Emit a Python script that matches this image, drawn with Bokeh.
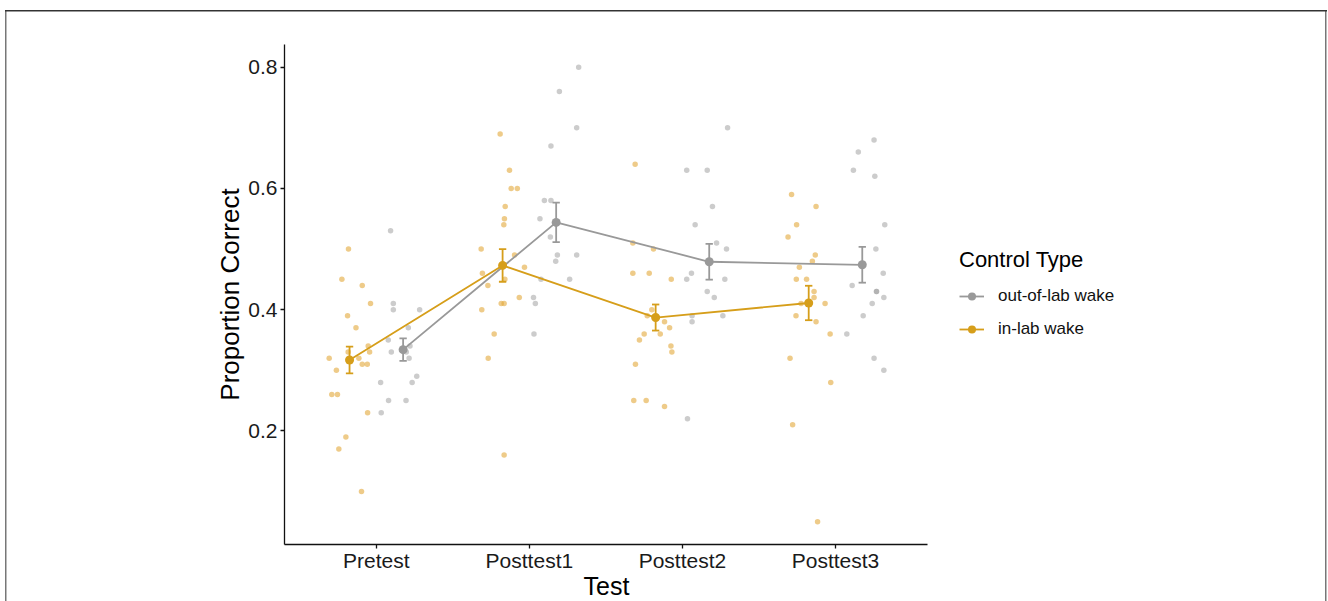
from bokeh.plotting import figure
from bokeh.models import (FixedTicker, Legend, LegendItem, Title,
                          ColumnDataSource, Range1d)
from bokeh.embed import file_html
from bokeh.resources import INLINE

# ---------------- data ----------------
tests = ["Pretest", "Posttest1", "Posttest2", "Posttest3"]
group_names = ["out-of-lab wake", "in-lab wake"]

# individual proportions correct (in-lab wake) and horizontal jitter (category units)
inlab_pretest = [0.50, 0.45, 0.44, 0.41, 0.39, 0.37, 0.34, 0.33, 0.33, 0.32,
                 0.32, 0.31, 0.31, 0.30, 0.26, 0.26, 0.23, 0.19, 0.17, 0.10]
inlab_pretest_jit = [-0.182, -0.225, -0.092, -0.038, -0.188, -0.133, -0.053, -0.044, -0.184, -0.308,
                     -0.114, -0.092, -0.059, -0.261, -0.291, -0.254, -0.057, -0.199, -0.245, -0.097]
inlab_post1 = [0.69, 0.63, 0.60, 0.60, 0.57, 0.55, 0.54, 0.50, 0.49, 0.47,
               0.46, 0.45, 0.44, 0.42, 0.41, 0.41, 0.40, 0.36, 0.32, 0.16]
inlab_post1_jit = [-0.191, -0.130, -0.119, -0.079, -0.158, -0.163, -0.167, -0.315, -0.097, -0.032,
                   -0.307, -0.160, -0.271, -0.066, -0.184, -0.165, -0.311, -0.230, -0.269, -0.165]
inlab_post2 = [0.64, 0.51, 0.50, 0.46, 0.46, 0.45, 0.40, 0.39, 0.38, 0.37,
               0.36, 0.36, 0.35, 0.34, 0.33, 0.31, 0.25, 0.25, 0.24]
inlab_post2_jit = [-0.309, -0.324, -0.189, -0.324, -0.217, -0.073, -0.200, -0.230, -0.117, -0.084,
                   -0.250, -0.145, -0.281, -0.075, -0.069, -0.307, -0.318, -0.237, -0.117]
inlab_post3 = [0.59, 0.57, 0.54, 0.52, 0.49, 0.48, 0.47, 0.45, 0.45, 0.43,
               0.42, 0.41, 0.41, 0.39, 0.38, 0.36, 0.32, 0.28, 0.21, 0.05]
inlab_post3_jit = [-0.287, -0.127, -0.254, -0.310, -0.132, -0.151, -0.236, -0.256, -0.189, -0.140,
                   -0.140, -0.068, -0.225, -0.258, -0.127, -0.035, -0.297, -0.031, -0.280, -0.117]

# individual proportions correct (out-of-lab wake) and horizontal jitter
outlab_pretest = [0.53, 0.41, 0.40, 0.40, 0.37, 0.35, 0.34, 0.33, 0.33, 0.32,
                  0.29, 0.28, 0.28, 0.25, 0.25, 0.23]
outlab_pretest_jit = [0.093, 0.111, 0.111, 0.283, 0.209, 0.078, 0.220, 0.098, 0.196, 0.214,
                      0.264, 0.028, 0.234, 0.080, 0.194, 0.032]
outlab_post1 = [0.80, 0.76, 0.70, 0.67, 0.58, 0.58, 0.55, 0.52, 0.49, 0.49,
                0.48, 0.45, 0.45, 0.42, 0.41, 0.36]
outlab_post1_jit = [0.322, 0.196, 0.309, 0.141, 0.098, 0.141, 0.069, 0.137, 0.183, 0.309,
                    0.172, 0.076, 0.263, 0.027, 0.039, 0.030]
outlab_post2 = [0.70, 0.63, 0.63, 0.57, 0.54, 0.51, 0.50, 0.46, 0.45, 0.45,
                0.43, 0.42, 0.39, 0.39, 0.38, 0.22]
outlab_post2_jit = [0.295, 0.028, 0.162, 0.196, 0.083, 0.223, 0.288, 0.059, 0.028, 0.277,
                    0.162, 0.208, 0.063, 0.264, 0.063, 0.033]
outlab_post3 = [0.68, 0.66, 0.63, 0.62, 0.54, 0.50, 0.46, 0.44, 0.43, 0.43,
                0.42, 0.41, 0.39, 0.36, 0.32, 0.30]
outlab_post3_jit = [0.252, 0.149, 0.117, 0.257, 0.322, 0.264, 0.312, 0.109, 0.268, 0.268,
                    0.316, 0.240, 0.181, 0.074, 0.252, 0.316]

# group means and standard errors per test
outlab_mean = [0.334, 0.544, 0.479, 0.474]
outlab_se = [0.0185, 0.0325, 0.0295, 0.0295]
inlab_mean = [0.317, 0.473, 0.387, 0.411]
inlab_se = [0.022, 0.027, 0.0215, 0.0284]

# ---------------- styling ----------------
GRAY = "#999999"
ORANGE = "#D69E1A"
ORANGE_PT = "#E2A83A"
FONT = "Liberation Sans"
DODGE = 0.175
CAP = 0.024
X_LO, X_HI = 0.4, 4.6          # visible extent of the categorical axis
X_VIEW_END = 7.169             # frame continues right to host the legend

p = figure(width=1328, height=601, output_backend="svg", toolbar_location=None,
           x_range=Range1d(X_LO, X_VIEW_END), y_range=Range1d(0.0125, 0.8375),
           min_border_left=284, min_border_right=8, min_border_top=44,
           min_border_bottom=57)
p.outline_line_color = None
p.xgrid.visible = False
p.ygrid.visible = False
p.background_fill_color = "white"
p.border_fill_alpha = 0
# thin panel frame drawn behind the (transparent) canvas border
p.styles = {
    "background": ("linear-gradient(#333333,#333333) 5px 10px / 1322px 1.5px no-repeat, "
                   "linear-gradient(#777777,#777777) 5px 10px / 1.5px 600px no-repeat, "
                   "linear-gradient(#777777,#777777) 1325px 10px / 1.5px 600px no-repeat, "
                   "#ffffff"),
}

# jittered individual points
def jitter_source(values_list, jit_list):
    xs, ys = [], []
    for i, (vals, jits) in enumerate(zip(values_list, jit_list)):
        for v, j in zip(vals, jits):
            xs.append(i + 1 + j)
            ys.append(v)
    return ColumnDataSource(dict(x=xs, y=ys))

src_in = jitter_source([inlab_pretest, inlab_post1, inlab_post2, inlab_post3],
                       [inlab_pretest_jit, inlab_post1_jit, inlab_post2_jit, inlab_post3_jit])
src_out = jitter_source([outlab_pretest, outlab_post1, outlab_post2, outlab_post3],
                        [outlab_pretest_jit, outlab_post1_jit, outlab_post2_jit, outlab_post3_jit])

p.scatter("x", "y", source=src_in, size=5.5, fill_color=ORANGE_PT, line_color=None, fill_alpha=0.6)
p.scatter("x", "y", source=src_out, size=5.5, fill_color=GRAY, line_color=None, fill_alpha=0.5)

def summary_source(means, ses, shift):
    xs = [i + 1 + shift for i in range(len(means))]
    lo = [m - s for m, s in zip(means, ses)]
    hi = [m + s for m, s in zip(means, ses)]
    return ColumnDataSource(dict(x=xs, y=means, lo=lo, hi=hi,
                                 x0=[x - CAP for x in xs], x1=[x + CAP for x in xs]))

s_out = summary_source(outlab_mean, outlab_se, DODGE)
s_in = summary_source(inlab_mean, inlab_se, -DODGE)

renderers = {}
for name, s, col in [("out", s_out, GRAY), ("in", s_in, ORANGE)]:
    ln = p.line("x", "y", source=s, line_color=col, line_width=1.8)
    p.segment("x", "lo", "x", "hi", source=s, line_color=col, line_width=1.8)
    p.segment("x0", "hi", "x1", "hi", source=s, line_color=col, line_width=1.8)
    p.segment("x0", "lo", "x1", "lo", source=s, line_color=col, line_width=1.8)
    pt = p.scatter("x", "y", source=s, size=9, fill_color=col, line_color=None)
    renderers[name] = (ln, pt)

# axes
p.xaxis.ticker = FixedTicker(ticks=[1, 2, 3, 4])
p.xaxis.major_label_overrides = {i + 1: t for i, t in enumerate(tests)}
p.xaxis.bounds = (X_LO, X_HI)
p.yaxis.ticker = FixedTicker(ticks=[0.2, 0.4, 0.6, 0.8])
p.yaxis.axis_label = "Proportion Correct"
for ax in (p.xaxis[0], p.yaxis[0]):
    ax.axis_line_color = "#111111"
    ax.axis_line_width = 1.3
    ax.major_tick_line_color = "#111111"
    ax.major_tick_line_width = 1.3
    ax.major_tick_out = 4
    ax.major_tick_in = 0
    ax.minor_tick_line_color = None
    ax.major_label_text_font = FONT
    ax.major_label_text_font_size = "21px"
    ax.major_label_text_color = "#1a1a1a"
    ax.axis_label_text_font = FONT
    ax.axis_label_text_font_size = "26px"
    ax.axis_label_text_font_style = "normal"
    ax.axis_label_text_color = "#000000"
p.xaxis.major_label_standoff = 0
p.yaxis.major_label_standoff = 3
p.yaxis.axis_label_standoff = 0

# x-axis title, centred under the categorical axis (not the whole frame)
x_title = Title(text="Test", align="left", offset=299, standoff=-9,
                text_font=FONT, text_font_size="25px", text_font_style="normal",
                text_color="#000000")
p.add_layout(x_title, "below")

legend = Legend(items=[LegendItem(label=group_names[0], renderers=list(renderers["out"])),
                       LegendItem(label=group_names[1], renderers=list(renderers["in"]))],
                title="Control Type", location=(675, 205))
legend.title_text_font = FONT
legend.title_text_font_size = "22px"
legend.title_text_font_style = "normal"
legend.title_text_color = "#000000"
legend.title_standoff = 13
legend.label_text_font = FONT
legend.label_text_font_size = "17px"
legend.label_text_color = "#111111"
legend.glyph_width = 25
legend.glyph_height = 20
legend.label_standoff = 14
legend.spacing = 13
legend.padding = 0
legend.margin = 0
legend.border_line_color = None
legend.background_fill_alpha = 0
p.add_layout(legend)

open("out.html", "w").write(file_html(p, INLINE))
